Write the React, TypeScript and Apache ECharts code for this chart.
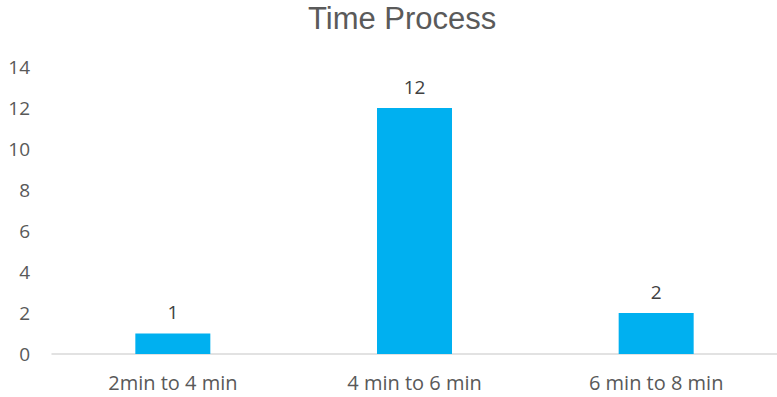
import React, { useEffect, useRef } from "react";
import * as echarts from "echarts";

const categories = ["2min to 4 min", "4 min to 6 min", "6 min to 8 min"];
const counts = [1, 12, 2];
const yTicks = { min: 0, max: 14, interval: 2 };

export default function App() {
  const ref = useRef<HTMLDivElement>(null);
  useEffect(() => {
    if (!ref.current) return;
    const chart = echarts.init(ref.current, undefined, { renderer: "svg" });
    const font = "'Open Sans', 'Noto Sans', sans-serif";
    chart.setOption({
      animation: false,
      backgroundColor: "#ffffff",
      title: {
        text: "Time Process",
        left: 303,
        top: -2,
        textStyle: {
          fontFamily: "'Liberation Sans', Arial, sans-serif",
          fontSize: 31,
          fontWeight: "normal",
          color: "#5a5a5a",
        },
      },
      grid: { left: 52, right: 0, top: 67, bottom: 43, containLabel: false },
      xAxis: {
        type: "category",
        data: categories,
        axisLine: { lineStyle: { color: "#d9d9d9", width: 1.5 } },
        axisTick: { show: false },
        axisLabel: { color: "#595959", fontSize: 20, fontFamily: font, margin: 18 },
      },
      yAxis: {
        type: "value",
        min: yTicks.min,
        max: yTicks.max,
        interval: yTicks.interval,
        splitLine: { show: false },
        axisLine: { show: false },
        axisTick: { show: false },
        axisLabel: { color: "#595959", fontSize: 19, fontFamily: font, margin: 22 },
      },
      series: [
        {
          type: "bar",
          data: counts,
          barWidth: 75,
          itemStyle: { color: "#00B0F0" },
          label: {
            show: true,
            position: "top",
            distance: 12,
            color: "#404040",
            fontSize: 19,
            fontFamily: font,
          },
        },
      ],
    });
    return () => chart.dispose();
  }, []);
  return <div ref={ref} style={{ width: 777, height: 397, position: "absolute", left: 0, top: 0 }} />;
}
